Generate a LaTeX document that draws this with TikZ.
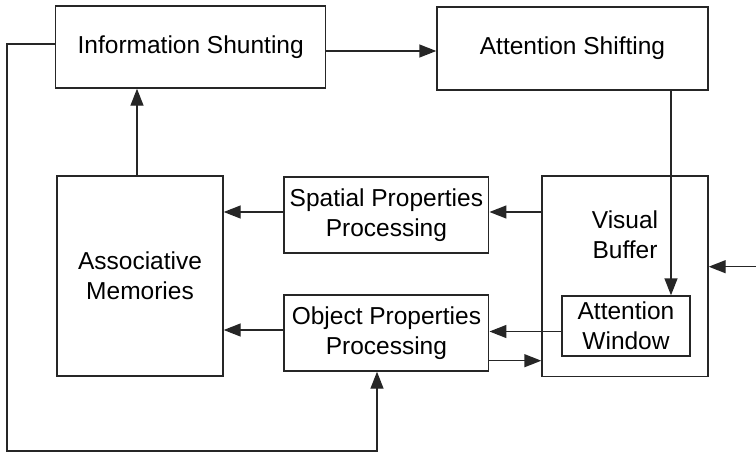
\documentclass[tikz,border=0pt]{standalone}
\usepackage{fontspec}
\setmainfont{Liberation Sans}
\usetikzlibrary{arrows.meta}
\begin{document}
\begin{tikzpicture}[x=1pt,y=-1pt,
  box/.style={draw=black!85,line width=1.4pt,fill=white,inner sep=0pt,align=center,
    font=\fontsize{24.5}{30}\selectfont},
  lbl/.style={inner sep=0pt,align=center,font=\fontsize{24.5}{30}\selectfont},
  arr/.style={draw=black!85,line width=1.4pt,-{Triangle[length=17pt,width=13pt]}},
  ln/.style={draw=black!85,line width=1.4pt}]
\useasboundingbox (0,0) rectangle (756,453);
\node[box,minimum width=270pt,minimum height=82pt] (IS) at (190.7,47) {Information Shunting};
\node[box,minimum width=271pt,minimum height=83pt] (AS) at (572.5,48.5) {Attention Shifting};
\node[box,minimum width=166pt,minimum height=200pt] (AM) at (140,276) {Associative\\Memories};
\node[box,minimum width=204.7pt,minimum height=76pt] (SP) at (386.4,215) {Spatial Properties\\Processing};
\node[box,minimum width=204.7pt,minimum height=76pt] (OP) at (386.4,333) {Object Properties\\Processing};
\node[box,minimum width=166pt,minimum height=200.7pt] (VB) at (625,276.3) {};
\node[lbl] (VBt) at (625,235) {Visual\\Buffer};
\node[box,minimum width=128pt,minimum height=60pt] (AW) at (626,326) {Attention\\Window};
% connectors
\coordinate (isout) at ([yshift=-4pt]IS.east);
\draw[arr] (isout) -- (isout -| AS.west);
\coordinate (amup) at ([xshift=-3pt]AM.north);
\draw[arr] (amup) -- (amup |- IS.south);
\coordinate (asout) at ([xshift=98.5pt]AS.south);
\draw[arr] (asout) -- (asout |- AW.north);
\coordinate (sprow) at ([yshift=3pt]SP.east);
\draw[arr] (sprow -| VB.west) -- (sprow);
\coordinate (sprowl) at ([yshift=3pt]SP.west);
\draw[arr] (sprowl) -- (sprowl -| AM.east);
\coordinate (oprow) at ([yshift=1.5pt]OP.east);
\draw[arr] (oprow -| AW.west) -- (oprow);
\coordinate (oprowl) at ([yshift=3pt]OP.west);
\draw[arr] (oprowl) -- (oprowl -| AM.east);
\coordinate (opout) at ([yshift=-27.7pt]OP.east);
\draw[arr] (opout) -- (opout -| VB.west);
\coordinate (input) at (756,266.7);
\draw[arr] (input) -- (input -| VB.east);
\coordinate (isleft) at ([yshift=3pt]IS.west);
\coordinate (loopc) at (7,451);
\coordinate (opin) at ([xshift=-9.4pt]OP.south);
\draw[arr] (isleft) -| (loopc) -| (opin);
\end{tikzpicture}
\end{document}
